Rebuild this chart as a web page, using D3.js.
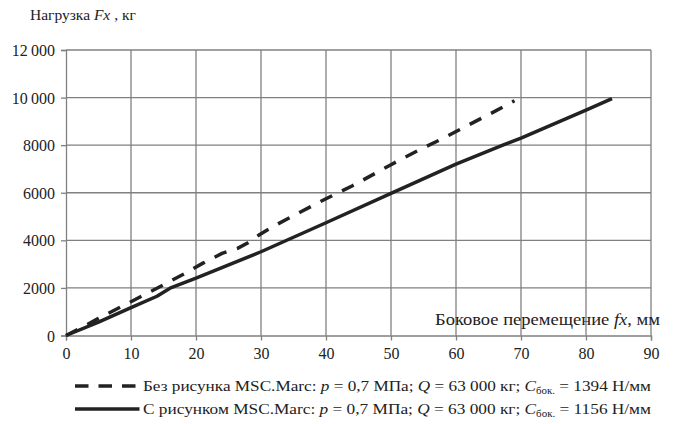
<!DOCTYPE html>
<html>
<head>
<meta charset="utf-8">
<script src="https://cdn.jsdelivr.net/npm/d3@7"></script>
<style>
  html, body { margin: 0; padding: 0; background: #fff; }
  svg { display: block; }
  svg text { font-family: "Liberation Serif", "Times New Roman", "DejaVu Serif", serif; }
</style>
</head>
<body>
<svg id="chart" width="673" height="424"></svg>
<script>
// Lateral displacement fx (mm) vs load Fx (kg)
const xTicks = [0, 10, 20, 30, 40, 50, 60, 70, 80, 90];
const yTicks = [0, 2000, 4000, 6000, 8000, 10000, 12000];
const yTickLabels = ["0", "2000", "4000", "6000", "8000", "10\u2009000", "12\u2009000"];

// Without tread pattern (dashed)
const plainX = [0, 3, 5, 10, 15, 18.5, 21, 24, 26.4, 28, 29.7, 32, 36, 40, 44, 50, 54.5, 58, 61.6, 65.1, 69];
const plainY = [0, 420, 720, 1420, 2130, 2640, 3030, 3450, 3664, 3900, 4223, 4600, 5180, 5750, 6282, 7180, 7823, 8286, 8803, 9294, 9870];

// With tread pattern (solid)
const treadX = [0, 5, 10, 14, 16, 20, 30, 40, 50, 60, 67.2, 70, 80, 84];
const treadY = [0, 560, 1170, 1650, 1990, 2410, 3520, 4740, 5975, 7200, 8000, 8300, 9475, 9960];

const legendLabels = [
  ["Без рисунка MSC.Marc: ", "p", " = 0,7 МПа; ", "Q", " = 63 000 кг; ", "C", "бок.", " = 1394 Н/мм"],
  ["С рисунком MSC.Marc: ", "p", " = 0,7 МПа; ", "Q", " = 63 000 кг; ", "C", "бок.", " = 1156 Н/мм"]
];

const svg = d3.select("#chart");
const plotLeft = 66, plotRight = 651, plotTop = 50, plotBottom = 335.5;
const serif = '"Liberation Serif", "Times New Roman", serif';

const x = d3.scaleLinear().domain([0, 90]).range([plotLeft, plotRight]);
const y = d3.scaleLinear().domain([0, 12000]).range([plotBottom, plotTop]);

const gridColor = "#808080";

// grid
svg.append("g").selectAll("line").data(xTicks.slice(1)).join("line")
  .attr("x1", d => x(d)).attr("x2", d => x(d))
  .attr("y1", y(12000)).attr("y2", y(0))
  .attr("stroke", gridColor).attr("stroke-width", 1.3);
svg.append("g").selectAll("line").data(yTicks.slice(1)).join("line")
  .attr("x1", x(0)).attr("x2", x(90))
  .attr("y1", d => y(d)).attr("y2", d => y(d))
  .attr("stroke", gridColor).attr("stroke-width", 1.3);

// axes
const xAxis = svg.append("g").attr("transform", `translate(0,${y(0)})`)
  .call(d3.axisBottom(x).tickValues(xTicks).tickSize(5).tickPadding(7).tickFormat(d3.format("d")));
const yAxis = svg.append("g").attr("transform", `translate(${x(0)},0)`)
  .call(d3.axisLeft(y).tickValues(yTicks).tickSize(5).tickPadding(6).tickFormat((d, i) => yTickLabels[i]));
[xAxis, yAxis].forEach(g => {
  g.attr("font-family", null);
  g.select(".domain").attr("stroke", gridColor).attr("stroke-width", 1.3);
  g.selectAll(".tick line").attr("stroke", gridColor).attr("stroke-width", 1.3);
  g.selectAll("text").attr("fill", "#222").attr("font-size", 16).style("font-family", serif);
});
yAxis.selectAll("text").attr("dy", "0.35em");

// series
const line = d3.line().x(d => x(d[0])).y(d => y(d[1]));
svg.append("path").datum(d3.zip(plainX, plainY))
  .attr("d", line).attr("fill", "none").attr("stroke", "#222")
  .attr("stroke-width", 3.5).attr("stroke-dasharray", "13,11");
svg.append("path").datum(d3.zip(treadX, treadY))
  .attr("d", line).attr("fill", "none").attr("stroke", "#222")
  .attr("stroke-width", 3.5).attr("stroke-linejoin", "round");

// axis titles
const yTitle = svg.append("text").attr("x", 30).attr("y", 20)
  .attr("font-size", 15.5).attr("fill", "#222").style("font-family", serif);
yTitle.append("tspan").text("Нагрузка ");
yTitle.append("tspan").attr("font-style", "italic").text("Fx");
yTitle.append("tspan").text(" , кг");

const xTitle = svg.append("text").attr("x", 435).attr("y", 325)
  .attr("font-size", 16.5).attr("fill", "#222").style("font-family", serif)
  .attr("textLength", 225).attr("lengthAdjust", "spacingAndGlyphs");
xTitle.append("tspan").text("Боковое перемещение ");
xTitle.append("tspan").attr("font-style", "italic").text("fx");
xTitle.append("tspan").text(", мм");

// legend
const legendRows = [{ y: 386, dash: "13.5,10" }, { y: 409, dash: null }];
legendRows.forEach((row, i) => {
  svg.append("line").attr("x1", 75).attr("x2", 139.5)
    .attr("y1", row.y).attr("y2", row.y)
    .attr("stroke", "#222").attr("stroke-width", 3.5)
    .attr("stroke-dasharray", row.dash);
  const t = svg.append("text").attr("x", 143).attr("y", row.y + 5)
    .attr("font-size", 15).attr("fill", "#222").style("font-family", serif)
    .attr("textLength", 508).attr("lengthAdjust", "spacingAndGlyphs");
  const parts = legendLabels[i];
  t.append("tspan").text(parts[0]);
  t.append("tspan").attr("font-style", "italic").text(parts[1]);
  t.append("tspan").text(parts[2]);
  t.append("tspan").attr("font-style", "italic").text(parts[3]);
  t.append("tspan").text(parts[4]);
  t.append("tspan").attr("font-style", "italic").text(parts[5]);
  t.append("tspan").attr("font-size", 9.5).attr("dy", 3).text(parts[6]);
  t.append("tspan").attr("dy", -3).text(parts[7]);
});
</script>
</body>
</html>
